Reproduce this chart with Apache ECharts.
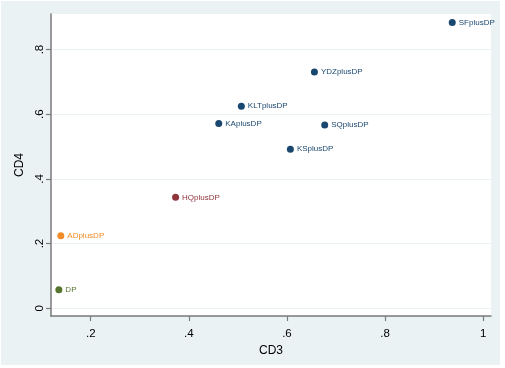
<!DOCTYPE html>
<html>
<head>
<meta charset="utf-8">
<script src="https://cdn.jsdelivr.net/npm/echarts@6/dist/echarts.min.js"></script>
<style>
	body { margin: 0; background: #fff; }
	#chart { position: absolute; left: 1px; top: 1px; width: 499px; height: 364px; }
</style>
</head>
<body>
<div id="chart"></div>
<script>
var pointNames = ['SFplusDP', 'YDZplusDP', 'KLTplusDP', 'KAplusDP', 'SQplusDP', 'KSplusDP', 'HQplusDP', 'ADplusDP', 'DP'];
var cd3 = [0.937, 0.656, 0.507, 0.461, 0.677, 0.607, 0.373, 0.139, 0.135];
var cd4 = [0.884, 0.731, 0.625, 0.571, 0.567, 0.492, 0.343, 0.224, 0.057];
var pointGroup = ['plus', 'plus', 'plus', 'plus', 'plus', 'plus', 'HQ', 'AD', 'DP'];
var xTicks = [0.2, 0.4, 0.6, 0.8, 1];
var yTicks = [0, 0.2, 0.4, 0.6, 0.8];

var groupColor = {
	plus: '#1a476f',
	HQ: '#90353b',
	AD: '#f28c28',
	DP: '#55752f'
};

function tickText(v) {
	return String(v).replace(/^0\./, '.');
}

function axisBase(name, ticks) {
	return {
		type: 'value',
		name: name,
		nameLocation: 'middle',
		nameTextStyle: {
			fontFamily: 'Liberation Sans',
			fontSize: 12,
			color: '#000'
		},
		axisLine: {
			onZero: false,
			lineStyle: { color: '#7a7a7a', width: 1.5 }
		},
		axisTick: {
			show: true,
			length: 5,
			customValues: ticks,
			lineStyle: { color: '#7a7a7a', width: 1.2 }
		},
		axisLabel: {
			customValues: ticks,
			formatter: tickText,
			fontFamily: 'Liberation Sans',
			fontSize: 11.5,
			color: '#000'
		},
		splitLine: { show: false }
	};
}

var xAxis = axisBase('CD3', xTicks);
xAxis.min = 0.119;
xAxis.max = 1.016;
xAxis.nameGap = 22;
xAxis.axisLabel.margin = 12;

var yAxis = axisBase('CD4', yTicks);
yAxis.min = -0.024;
yAxis.max = 0.91;
yAxis.nameGap = 19;
yAxis.axisLabel.rotate = 90;
yAxis.axisLabel.margin = 5;
yAxis.splitLine = {
	show: true,
	lineStyle: { color: '#eaf2f3', width: 1 }
};

var seriesData = pointNames.map(function(n, i) {
	var c = groupColor[pointGroup[i]];
	return {
		name: n,
		value: [cd3[i], cd4[i]],
		itemStyle: { color: c, opacity: 1 },
		label: { color: c }
	};
});

var chart = echarts.init(document.getElementById('chart'));
chart.setOption({
	backgroundColor: '#eaf2f3',
	animation: false,
	grid: {
		left: 50,
		top: 13,
		width: 440,
		height: 302,
		show: true,
		backgroundColor: '#fff',
		borderWidth: 0
	},
	xAxis: xAxis,
	yAxis: yAxis,
	series: [{
		type: 'scatter',
		symbolSize: 7,
		data: seriesData,
		label: {
			show: true,
			position: 'right',
			distance: 3,
			formatter: '{b}',
			fontFamily: 'Liberation Sans',
			fontSize: 8
		}
	}]
});
</script>
</body>
</html>
